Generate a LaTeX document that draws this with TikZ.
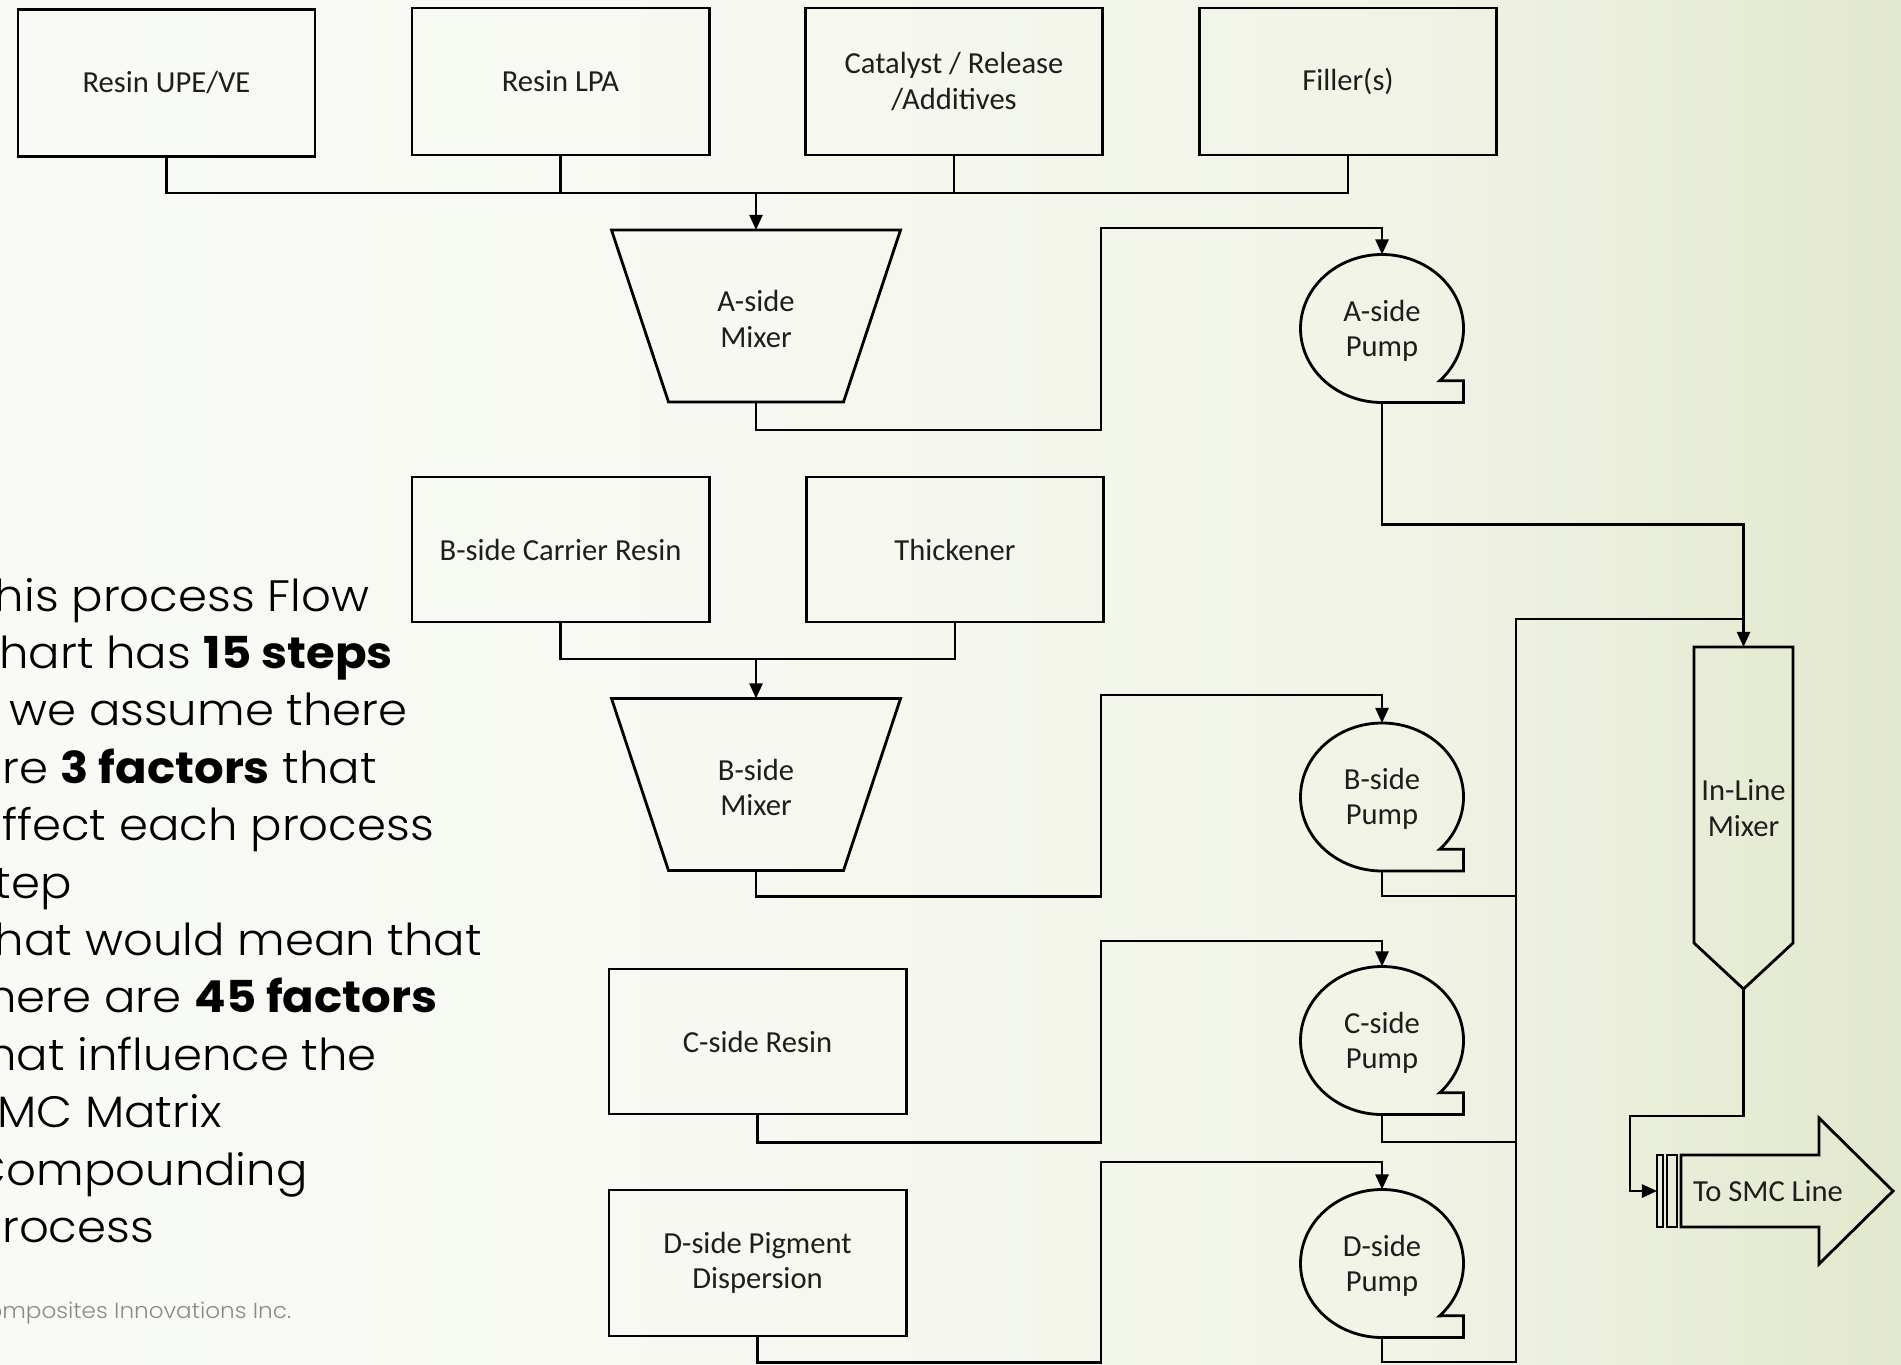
\documentclass[tikz,border=0pt]{standalone}
\usepackage{fontspec}
\setmainfont{Carlito}
\newfontfamily\gothic[UprightFont={* Light}, BoldFont={* Bold}, FakeStretch=1.06]{Poppins}
\usetikzlibrary{arrows.meta}

\definecolor{bgA}{HTML}{F9FAF6}
\definecolor{bgB}{HTML}{F6F8F0}
\definecolor{bgC}{HTML}{F0F3E5}
\definecolor{bgD}{HTML}{E2E8CD}
\definecolor{inkc}{HTML}{000000}
\definecolor{labelc}{HTML}{1E1E1E}
\definecolor{footc}{HTML}{8A8A8A}

\pgfdeclarehorizontalshading{slidebg}{100bp}{color(0bp)=(bgA); color(25bp)=(bgA); color(47.5bp)=(bgB); color(62.5bp)=(bgC); color(75bp)=(bgD); color(100bp)=(bgD)}

\tikzset{
  shapeline/.style={draw=inkc, line width=0.8pt, line join=miter},
  wire/.style={draw=inkc, line width=0.75pt},
  arr/.style={-{Triangle[length=4.3pt,width=3.7pt]}},
  lbl/.style={font=\fontsize{8.7}{10}\selectfont, text=labelc, align=center, inner sep=0pt},
  srcbox/.style={shapeline, lbl, minimum width=2.97cm, minimum height=1.47cm},
  bodytext/.style={font=\gothic\fontsize{12.5}{16.3}\selectfont, text=black, anchor=base west, inner sep=0pt},
  pics/pump/.style={code={
    \draw[shapeline] (0,74) arc[start angle=90, end angle=405, x radius=81.5, y radius=74]
      -- (81.5,52.3) -- (81.5,74) -- cycle;
    \node[lbl] (-t) at (0,2) {#1};
    \coordinate (-in) at (0,-74);
    \coordinate (-out) at (0,74);
  }},
  pics/mixer/.style={code={
    \draw[shapeline] (-144.5,-86) -- (144.5,-86) -- (87.5,86) -- (-87.5,86) -- cycle;
    \node[lbl] (-t) at (0,3) {#1};
    \coordinate (-in) at (0,-86);
    \coordinate (-out) at (0,86);
  }},
}

\begin{document}
\begin{tikzpicture}[x=0.01cm, y=-0.01cm]
  \useasboundingbox (0,0) rectangle (1901,1364);
  \clip (0,0) rectangle (1901,1364);
  \shade[shading=slidebg] (0,0) rectangle (1901,1364);

  % explanatory text on the left
  \foreach \ln [count=\i] in {
      {This process Flow},
      {chart has \textbf{15 steps}},
      {If we assume there},
      {are \textbf{3 factors} that},
      {affect each process},
      {step},
      {That would mean that},
      {there are \textbf{45 factors}},
      {that influence the},
      {SMC Matrix},
      {Compounding},
      {process}}
    \node[bodytext, name=note\i] at (-30, {611+(\i-1)*57.4}) {\ln};
  \node[anchor=base west, inner sep=0pt, text=footc, font=\gothic\fontsize{6.2}{8}\selectfont]
    (foot) at (-31,1318) {Composites Innovations Inc.};

  % raw material sources
  \node[srcbox] (upe) at (166.5,83)   {Resin UPE/VE};
  \node[srcbox] (lpa) at (560.5,81.5) {Resin LPA};
  \node[srcbox] (cat) at (954,81.5)   {Catalyst / Release\\/Additives};
  \node[srcbox] (fil) at (1348,81.5)  {Filler(s)};
  \node[srcbox, minimum height=1.45cm] (bcar) at (560.5,549.5) {B-side Carrier Resin};
  \node[srcbox, minimum height=1.45cm] (thk)  at (955,549.5)   {Thickener};
  \node[srcbox, minimum height=1.45cm] (cres) at (757.5,1041.5) {C-side Resin};
  \node[srcbox, minimum height=1.46cm] (dpig) at (757.5,1263)   {D-side Pigment\\Dispersion};

  % mixers and pumps
  \pic (amix) at (756,316)   {mixer={A-side\\Mixer}};
  \pic (bmix) at (756,784.5) {mixer={B-side\\Mixer}};
  \pic (pa) at (1382,328.5)  {pump={A-side\\Pump}};
  \pic (pb) at (1382,797)    {pump={B-side\\Pump}};
  \pic (pc) at (1382,1040.5) {pump={C-side\\Pump}};
  \pic (pd) at (1382,1263.5) {pump={D-side\\Pump}};

  % in-line mixer
  \draw[shapeline] (1694,647) -- (1793,647) -- (1793,943) -- (1743.5,989) -- (1694,943) -- cycle;
  \node[lbl] (ilm) at (1743.5,808) {In-Line\\Mixer};
  \coordinate (ilm-in) at (1743.5,647);
  \coordinate (ilm-out) at (1743.5,989);

  % outlet arrow to the SMC line
  \draw[shapeline] (1657,1155) rectangle (1663,1227);
  \draw[shapeline] (1667,1155) rectangle (1677,1227);
  \draw[shapeline] (1681,1155) -- (1819,1155) -- (1819,1118) -- (1893,1191)
    -- (1819,1264) -- (1819,1227) -- (1681,1227) -- cycle;
  \node[lbl] (smc) at (1768,1191) {To SMC Line};
  \coordinate (smc-in) at (1657,1191);

  % A-side feed
  \coordinate (jA) at (756,193);
  \draw[wire] (upe.south) |- (jA) -| (fil.south);
  \draw[wire] (lpa.south) -- (lpa.south |- jA);
  \draw[wire] (cat.south) -- (cat.south |- jA);
  \draw[wire,arr] (jA) -- (amix-in);
  \draw[wire,arr] (amix-out) -- ++(0,28) -| (1101,228) -| (pa-in);
  \draw[wire,arr] (pa-out) -- ++(0,122) -| (ilm-in);

  % B-side feed
  \coordinate (jB) at (756,659);
  \draw[wire] (bcar.south) |- (jB) -| (thk.south);
  \draw[wire,arr] (jB) -- (bmix-in);
  \draw[wire,arr] (bmix-out) -- ++(0,26) -| (1101,695) -| (pb-in);

  % C-side and D-side feeds
  \draw[wire,arr] (cres.south) -- ++(0,27) -| (1101,941) -| (pc-in);
  \draw[wire,arr] (dpig.south) -- ++(0,25) -| (1101,1162) -| (pd-in);

  % pump outlets gathered into the in-line mixer
  \coordinate (jM) at (1743.5,619);
  \draw[wire] (pd-out) |- (1516,1362) -- (1516,619) -- (jM);
  \draw[wire] (pb-out) |- (1516,896);
  \draw[wire] (pc-out) |- (1516,1142);

  % in-line mixer to the SMC line
  \draw[wire,arr] (ilm-out) -- ++(0,127) -| (1630,1191) -- (smc-in);
\end{tikzpicture}
\end{document}
